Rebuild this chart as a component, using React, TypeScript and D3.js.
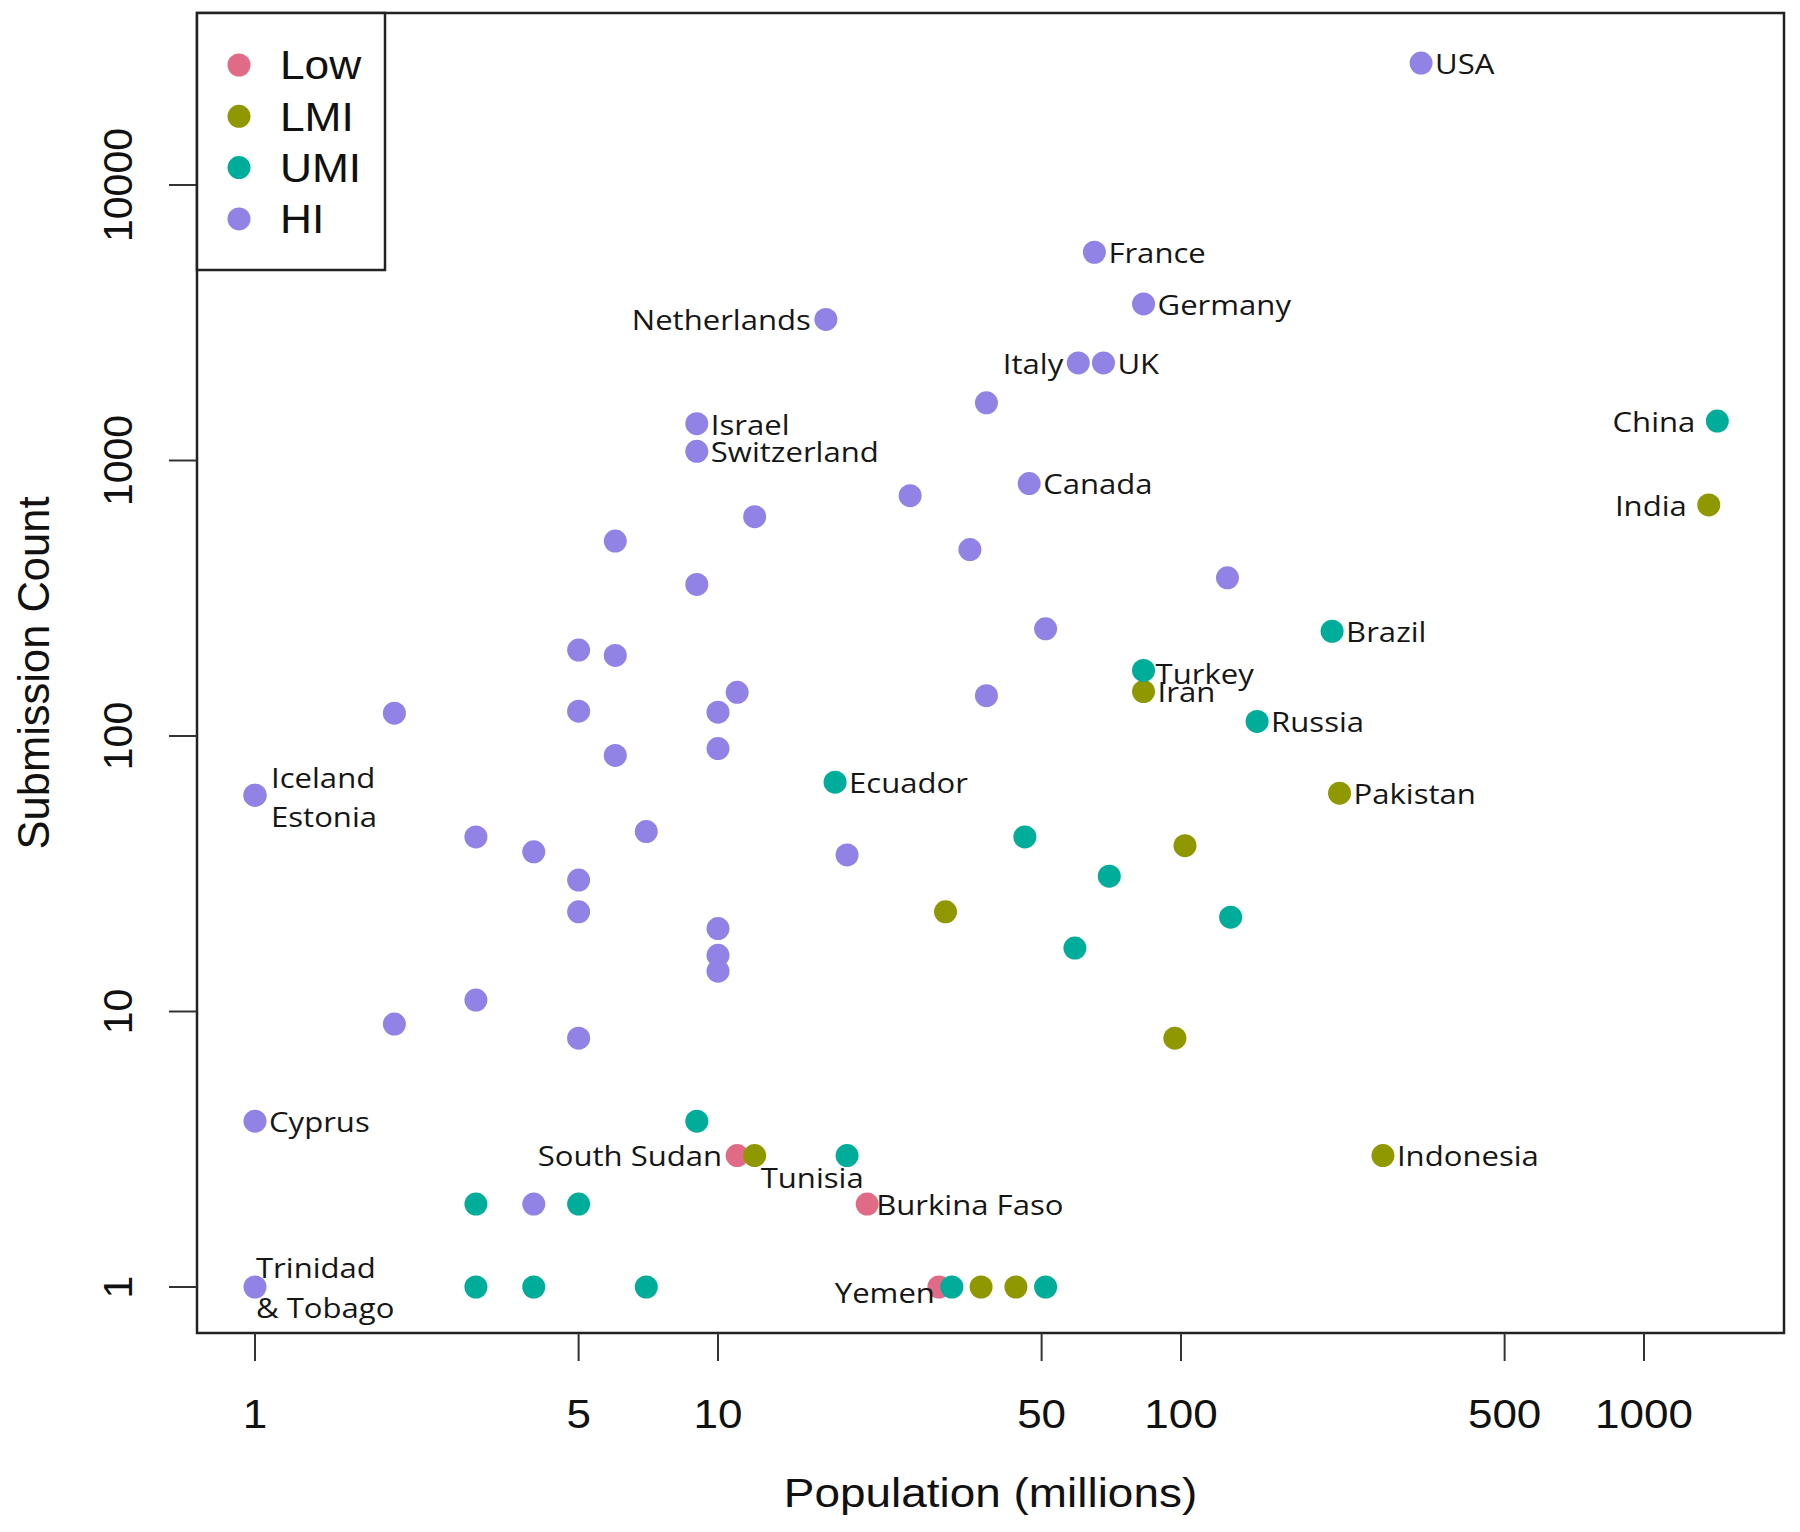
import React from "react";
import * as d3 from "d3";

// ---------- data ----------
const categories = ["Low", "LMI", "UMI", "HI"];
const categoryColors = ["#E16A86", "#909800", "#00AD9A", "#9183E6"];

const lowNames = ["South Sudan", "Burkina Faso", "Yemen"];
const lowPop = [11, 21, 30];
const lowCount = [3, 2, 1];

const lmiNames = ["India", "Iran", "Pakistan", "", "", "", "Indonesia", "Tunisia", "", ""];
const lmiPop = [1380, 83, 220, 102, 31, 97, 273, 12, 37, 44];
const lmiCount = [690, 145, 62, 40, 23, 8, 3, 3, 1, 1];

const umiNames = ["China", "Brazil", "Turkey", "Russia", "Ecuador", "", "", "", "", "", "", "", "", "", "", "", "", ""];
const umiPop = [1440, 212, 83, 146, 17.9, 46, 70, 128, 59, 9, 19, 3, 5, 3, 4, 7, 32, 51];
const umiCount = [1390, 240, 173, 113, 68, 43, 31, 22, 17, 4, 3, 2, 2, 1, 1, 1, 1, 1];

const hiNames = [
  "USA", "France", "Germany", "Netherlands", "Italy", "UK", "", "Israel", "Switzerland", "Canada",
  "", "", "", "", "", "", "", "", "", "",
  "", "", "", "", "", "", "Iceland", "Estonia", "", "",
  "", "", "", "", "", "", "", "", "", "",
  "Cyprus", "", "Trinidad & Tobago",
];
const hiPop = [
  330, 65, 83, 17.1, 60, 68, 38, 9, 9, 47,
  26, 12, 6, 35, 126, 9, 51, 5, 6, 11,
  38, 2, 5, 10, 6, 10, 1, 1, 3, 4,
  7, 19, 5, 5, 10, 10, 10, 3, 2, 5,
  1, 4, 1,
];
const hiCount = [
  27700, 5700, 3700, 3250, 2260, 2260, 1620, 1360, 1080, 825,
  745, 625, 510, 475, 375, 355, 245, 205, 196, 144,
  140, 121, 123, 122, 85, 90, 61, 61, 43, 38,
  45, 37, 30, 23, 20, 16, 14, 11, 9, 8,
  4, 2, 1,
];

const xTicks = [1, 5, 10, 50, 100, 500, 1000];
const yTicks = [1, 10, 100, 1000, 10000];
const xTitle = "Population (millions)";
const yTitle = "Submission Count";

// label placement (side of the dot)
const labelSide: Record<string, string> = {
  USA: "right", France: "right", Germany: "right", Netherlands: "left", Italy: "left", UK: "right",
  Israel: "right", Switzerland: "right", Canada: "right", China: "leftFar", India: "leftFar",
  Brazil: "right", Turkey: "rightLow", Iran: "right", Russia: "right", Ecuador: "right",
  Pakistan: "right", Indonesia: "right", Iceland: "aboveRight", Estonia: "belowRight",
  Cyprus: "right", "South Sudan": "left", Tunisia: "belowRightNear", "Burkina Faso": "rightNear",
  Yemen: "leftOver", "Trinidad & Tobago": "split",
};

// ---------- layout ----------
const W = 1800;
const H = 1532;
const box = { left: 197, right: 1784, top: 13, bottom: 1333 };
const x = d3.scaleLog().domain([1, 1000]).range([255, 1644]);
const y = d3.scaleLog().domain([1, 10000]).range([1287, 185]);
const R = 11.5;
const axisFont = "'Liberation Sans', Arial, Helvetica, sans-serif";
const labelFont = "'Open Sans', 'Noto Sans', sans-serif";

type Pt = { name: string; pop: number; count: number; cat: number };

function build(names: string[], pop: number[], count: number[], cat: number): Pt[] {
  return pop.map((p, i) => ({ name: names[i], pop: p, count: count[i], cat }));
}

const points: Pt[] = [
  ...build(lowNames, lowPop, lowCount, 0),
  ...build(lmiNames, lmiPop, lmiCount, 1),
  ...build(umiNames, umiPop, umiCount, 2),
  ...build(hiNames, hiPop, hiCount, 3),
];

const LS = 28; // label font size
const LSX = 1.11;

function Label({ p }: { p: Pt }) {
  const cx = x(p.pop);
  const cy = y(p.count);
  const side = labelSide[p.name] || "right";
  const common = {
    fontFamily: labelFont,
    fontSize: LS,
    fill: "#161616",
    dominantBaseline: "central" as const,
  };
  const T = (tx: number, ty: number, anchor: string, text: string, key?: string) => (
    <text key={key} transform={`translate(${tx},${ty}) scale(${LSX},1)`} textAnchor={anchor} {...common}>
      {text}
    </text>
  );
  switch (side) {
    case "left":
      return T(cx - 15, cy, "end", p.name);
    case "leftFar":
      return T(cx - 22, cy, "end", p.name);
    case "leftOver":
      return T(cx - 4, cy + 5, "end", p.name);
    case "rightLow":
      return T(cx + 12, cy + 3, "start", p.name);
    case "rightNear":
      return T(cx + 9, cy, "start", p.name);
    case "aboveRight":
      return T(cx + 16, cy - 18, "start", p.name);
    case "belowRight":
      return T(cx + 16, cy + 21, "start", p.name);
    case "belowRightNear":
      return T(cx + 6, cy + 22, "start", p.name);
    case "split": {
      const parts = p.name.split(" & ");
      return (
        <g>
          {T(cx + 1, cy - 20, "start", parts[0], "a")}
          {T(cx + 1, cy + 20, "start", "& " + parts[1], "b")}
        </g>
      );
    }
    default:
      return T(cx + 14, cy, "start", p.name);
  }
}

export default function App() {
  return (
    <svg
      width={W}
      height={H}
      viewBox={`0 0 ${W} ${H}`}
      style={{ position: "absolute", left: 0, top: 0, background: "#fff" }}
    >
      <rect x={0} y={0} width={W} height={H} fill="#fff" />
      {/* points */}
      {points.map((p, i) => (
        <circle key={i} cx={x(p.pop)} cy={y(p.count)} r={R} fill={categoryColors[p.cat]} />
      ))}
      {/* labels */}
      {points.filter((p) => p.name).map((p, i) => <Label key={"l" + i} p={p} />)}

      {/* box */}
      <rect
        x={box.left}
        y={box.top}
        width={box.right - box.left}
        height={box.bottom - box.top}
        fill="none"
        stroke="#222"
        strokeWidth={2.5}
      />

      {/* x axis */}
      {xTicks.map((t) => (
        <g key={"xt" + t}>
          <line x1={x(t)} x2={x(t)} y1={box.bottom} y2={box.bottom + 28} stroke="#333" strokeWidth={2} />
          <text
            transform={`translate(${x(t)},${1428}) scale(1.1,1)`}
            textAnchor="middle"
            fontFamily={axisFont}
            fontSize={40}
            fill="#111"
          >
            {String(t)}
          </text>
        </g>
      ))}
      <text
        transform={`translate(${(box.left + box.right) / 2},${1507}) scale(1.12,1)`}
        textAnchor="middle"
        fontFamily={axisFont}
        fontSize={41}
        fill="#111"
      >
        {xTitle}
      </text>

      {/* y axis */}
      {yTicks.map((t) => (
        <g key={"yt" + t}>
          <line x1={box.left - 28} x2={box.left} y1={y(t)} y2={y(t)} stroke="#333" strokeWidth={2} />
          <text
            transform={`translate(${132},${y(t)}) rotate(-90)`}
            textAnchor="middle"
            fontFamily={axisFont}
            fontSize={41}
            fill="#111"
          >
            {String(t)}
          </text>
        </g>
      ))}
      <text
        transform={`translate(${49},${(box.top + box.bottom) / 2}) rotate(-90)`}
        textAnchor="middle"
        fontFamily={axisFont}
        fontSize={43.5}
        fill="#111"
      >
        {yTitle}
      </text>

      {/* legend */}
      <rect x={box.left} y={box.top} width={188} height={257} fill="#fff" stroke="#222" strokeWidth={2.5} />
      {categories.map((c, i) => (
        <g key={"lg" + c}>
          <circle cx={239} cy={65 + i * 51.3} r={11.5} fill={categoryColors[i]} />
          <text
            transform={`translate(${280},${65 + i * 51.3}) scale(1.08,1)`}
            dominantBaseline="central"
            fontFamily={axisFont}
            fontSize={41}
            fill="#111"
          >
            {c}
          </text>
        </g>
      ))}
    </svg>
  );
}
